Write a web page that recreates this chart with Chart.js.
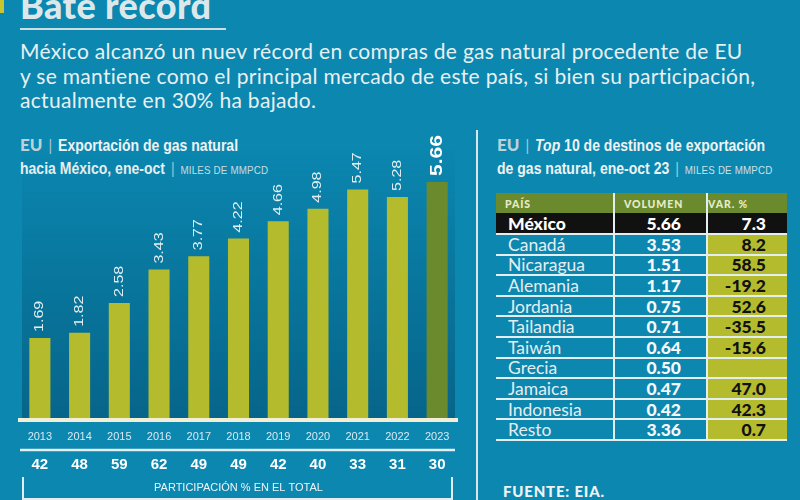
<!DOCTYPE html>
<html>
<head>
<meta charset="utf-8">
<script src="https://cdn.jsdelivr.net/npm/chart.js@4"></script>
<style>
  html, body { margin: 0; padding: 0; }
  body { width: 800px; height: 500px; overflow: hidden; background: #0b87b0; position: relative; font-family: Lato, "Noto Sans", sans-serif; color: #e6eef1; }
  .abs { position: absolute; }
  #flag { left: 0; top: 0; width: 4px; height: 13px; background: #c9c52e; }
  #title { left: 20px; top: -17px; font: 900 36px Lato, sans-serif; color: #dde7ea; letter-spacing: 0.4px; }
  #rule { left: 20px; top: 28px; width: 206px; height: 2px; background: #cfdde2; }
  #lead { left: 20px; top: 39px; font: 400 21px Lato, sans-serif; line-height: 24.5px; color: #e9f0f2; white-space: nowrap; letter-spacing: 0.3px; }
  .head { font: bold 16.5px "Liberation Sans", Arial, sans-serif; line-height: 23px; height: 23px; color: #eef3f4; white-space: nowrap; transform: scaleX(0.85); transform-origin: left center; }
  .head .eu { display: inline-block; font: 900 17px Lato, sans-serif; color: #bcd2da; transform: scaleX(1.176); transform-origin: left center; margin-right: 4px; }
  .head .bar { font-weight: 300; color: #a9c8d3; margin: 0 7px; }
  .head .unit { font: 400 11.5px "Liberation Sans", Arial, sans-serif; color: #cfe0e6; letter-spacing: 0.2px; }
  #divider { left: 476px; top: 130px; width: 2px; height: 370px; background: #d8e6ea; }
  #chartBox { left: 0; top: 120px; width: 470px; height: 380px; }
  #table { left: 496px; top: 193px; width: 291px; }
  .row { display: flex; border-bottom: 2px solid #e3eef1; box-sizing: border-box; }
  .cell { box-sizing: border-box; display: flex; align-items: center; }
  .c1 { width: 117px; padding-left: 12px; }
  .c2 { width: 93px; justify-content: flex-end; padding-right: 25px; border-left: 2px solid #e3eef1; }
  .c3 { width: 81px; justify-content: flex-end; padding-right: 21px; border-left: 2px solid #e3eef1; background: #b4bc2e; color: #111; font-weight: 900; }
  .hdr { background: #6b8a2e; height: 20px; border-bottom: none; }
  .hdr .cell { font: 900 10.5px Lato, sans-serif; color: #e6ecc9; letter-spacing: 0.9px; background: #6b8a2e; padding-top: 2px; }
  .hdr .c1 { padding-left: 9px; }
  .hdr .c2 { justify-content: flex-start; padding-left: 9px; padding-right: 0; }
  .hdr .c3 { justify-content: flex-start; padding-left: 0; padding-right: 0; color: #e6ecc9; }
  .body { height: 20.6px; font-size: 17.5px; }
  .body .c1 { font-weight: 400; color: #e4eef1; }
  .body .c2 { font-weight: 900; color: #f4f8f9; }
  .top { background: #111; height: 22px; }
  .top .c1, .top .c2, .top .c3 { background: #111; color: #fff; font-weight: 900; }
  #source { left: 503px; top: 482px; font: 900 15px Lato, sans-serif; color: #eef3f4; letter-spacing: 0.8px; }
</style>
</head>
<body>
<div id="flag" class="abs"></div>
<div id="title" class="abs">Bate récord</div>
<div id="rule" class="abs"></div>
<div id="lead" class="abs">México alcanzó un nuev récord en compras de gas natural procedente de EU<br>y se mantiene como el principal mercado de este país, si bien su participación,<br>actualmente en 30% ha bajado.</div>

<div class="abs head" style="left:20px;top:134px;"><span class="eu">EU</span><span class="bar">|</span>Exportación de gas natural</div>
<div class="abs head" style="left:20px;top:157px;">hacia México, ene-oct<span class="bar">|</span><span class="unit">MILES DE MMPCD</span></div>
<div class="abs head" style="left:497px;top:134px;"><span class="eu">EU</span><span class="bar">|</span><i>Top</i> 10 de destinos de exportación</div>
<div class="abs head" style="left:497px;top:157px;">de gas natural, ene-oct 23<span class="bar">|</span><span class="unit">MILES DE MMPCD</span></div>

<div id="divider" class="abs"></div>
<div id="chartBox" class="abs"><canvas id="exportChart"></canvas></div>
<div id="table" class="abs"></div>
<div id="source" class="abs">FUENTE: EIA.</div>

<script>
// Chart data - US natural gas exports to Mexico, Jan-Oct (thousand MMcfd)
const years = ['2013', '2014', '2015', '2016', '2017', '2018', '2019', '2020', '2021', '2022', '2023'];
const exportValues = [1.69, 1.82, 2.58, 3.43, 3.77, 4.22, 4.66, 4.98, 5.47, 5.28, 5.66];
const mexicoShare = [42, 48, 59, 62, 49, 49, 42, 40, 33, 31, 30];

// Table data - top 10 destinations, Jan-Oct 23
const tableHeaders = ['PAÍS', 'VOLUMEN', 'VAR. %'];
const countries = ['México', 'Canadá', 'Nicaragua', 'Alemania', 'Jordania', 'Tailandia', 'Taiwán', 'Grecia', 'Jamaica', 'Indonesia', 'Resto'];
const volumes = [5.66, 3.53, 1.51, 1.17, 0.75, 0.71, 0.64, 0.50, 0.47, 0.42, 3.36];
const changes = [7.3, 8.2, 58.5, -19.2, 52.6, -35.5, -15.6, null, 47.0, 42.3, 0.7];

const BAR = '#b4bc2e';
const BAR_LAST = '#6b8a2e';
const LABEL_FONT = '"Liberation Sans", Arial, sans-serif';
const Y_MIN = -0.4;

// Darker panel behind the bars
const panelPlugin = {
    id: 'panel',
    beforeDraw(chart) {
        const { ctx, chartArea: a } = chart;
        const g = ctx.createLinearGradient(0, a.top, 0, a.bottom);
        g.addColorStop(0, 'rgba(0, 45, 75, 0)');
        g.addColorStop(1, 'rgba(0, 45, 75, 0.38)');
        ctx.save();
        ctx.fillStyle = g;
        ctx.fillRect(a.left + 2, a.top, a.right - a.left - 4, a.bottom - a.top);
        ctx.restore();
    }
};

// Rotated value labels above the bars
const valueLabels = {
    id: 'valueLabels',
    afterDatasetsDraw(chart) {
        const { ctx } = chart;
        const meta = chart.getDatasetMeta(0);
        meta.data.forEach((bar, i) => {
            const last = i === exportValues.length - 1;
            ctx.save();
            ctx.translate(bar.x, bar.y - 6);
            ctx.rotate(-Math.PI / 2);
            ctx.scale(1, 0.8);
            ctx.font = last ? 'bold 21px ' + LABEL_FONT : '16px ' + LABEL_FONT;
            ctx.fillStyle = last ? '#ffffff' : '#e3eef2';
            ctx.textAlign = 'left';
            ctx.textBaseline = 'middle';
            ctx.fillText(exportValues[i].toFixed(2), 0, 0);
            ctx.restore();
        });
    }
};

// Separator under the years and bracket round the share row label
const bracket = {
    id: 'bracket',
    afterDraw(chart) {
        const { ctx, chartArea: a, height } = chart;
        const sep = chart.scales.x.bottom;
        const top = height - 23;
        ctx.save();
        ctx.strokeStyle = '#e3eef1';
        ctx.lineWidth = 2;
        ctx.beginPath();
        ctx.moveTo(a.left + 3, top);
        ctx.lineTo(a.left + 3, height - 1);
        ctx.lineTo(a.right - 5, height - 1);
        ctx.lineTo(a.right - 5, top);
        ctx.stroke();
        ctx.lineWidth = 2.5;
        ctx.beginPath();
        ctx.moveTo(a.left, sep);
        ctx.lineTo(a.right - 2, sep);
        ctx.stroke();
        ctx.restore();
    }
};

function initializeChart() {
    const ctx = document.getElementById('exportChart').getContext('2d');
    return new Chart(ctx, {
        type: 'bar',
        data: {
            labels: years,
            datasets: [{
                data: exportValues,
                backgroundColor: exportValues.map((v, i) => i === exportValues.length - 1 ? BAR_LAST : BAR),
                borderWidth: 0,
                base: Y_MIN,
                barPercentage: 0.53,
                categoryPercentage: 1
            }]
        },
        options: {
            responsive: true,
            maintainAspectRatio: false,
            animation: false,
            layout: { padding: { left: 20, right: 13, top: 29, bottom: 0 } },
            plugins: {
                legend: { display: false },
                tooltip: { enabled: false }
            },
            scales: {
                y: {
                    display: false,
                    min: Y_MIN,
                    max: 6.5
                },
                x: {
                    position: 'bottom',
                    grid: { display: false, drawTicks: false },
                    border: { display: true, color: '#f2efd6', width: 4, z: 1 },
                    ticks: { color: '#d9e9ef', padding: 10, font: { family: LABEL_FONT, size: 11 } },
                    afterFit(scale) { scale.height = 30; }
                },
                x2: {
                    type: 'category',
                    labels: mexicoShare.map(String),
                    position: 'bottom',
                    offset: true,
                    grid: { display: false, drawTicks: false },
                    border: { display: false },
                    ticks: { color: '#ffffff', padding: 6, font: { family: LABEL_FONT, size: 15, weight: 'bold' } },
                    title: {
                        display: true,
                        text: 'PARTICIPACIÓN % EN EL TOTAL',
                        color: '#eef4f6',
                        font: { family: LABEL_FONT, size: 11 },
                        padding: { top: 4, bottom: 5 }
                    },
                    afterFit(scale) { scale.height = 50; }
                }
            }
        },
        plugins: [panelPlugin, valueLabels, bracket]
    });
}

// Build the destinations table from the arrays
function buildTable() {
    const table = document.getElementById('table');
    let html = '<div class="row hdr">' + tableHeaders.map((h, i) => `<div class="cell c${i + 1}">${h}</div>`).join('') + '</div>';
    countries.forEach((name, i) => {
        const cls = i === 0 ? 'row body top' : 'row body';
        const change = changes[i] === null ? '' : changes[i].toFixed(1);
        html += `<div class="${cls}"><div class="cell c1">${name}</div><div class="cell c2">${volumes[i].toFixed(2)}</div><div class="cell c3">${change}</div></div>`;
    });
    table.innerHTML = html;
}

buildTable();
initializeChart();
</script>
</body>
</html>
